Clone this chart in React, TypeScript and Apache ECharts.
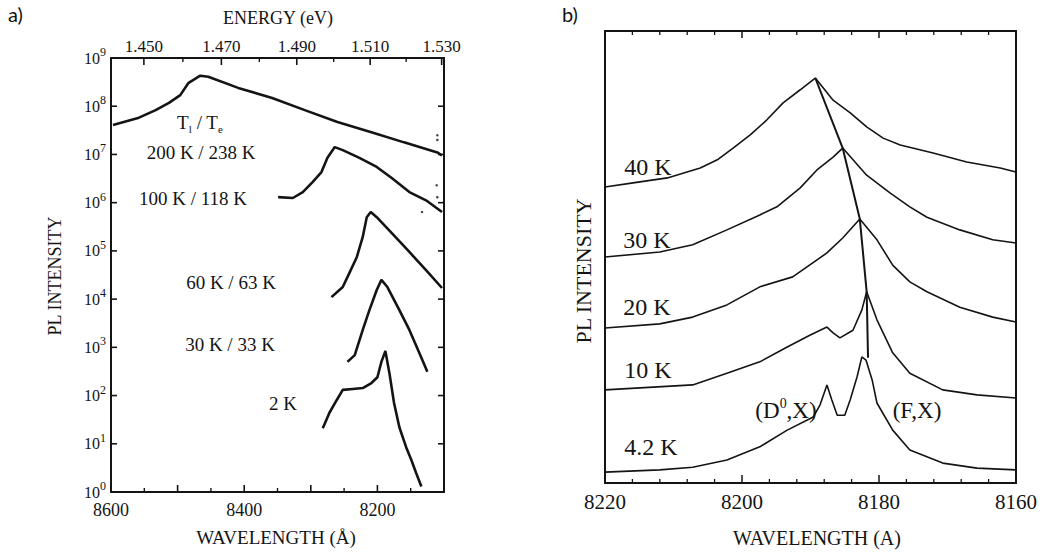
import { useEffect, useRef } from "react";
import * as echarts from "echarts";

// hc in eV·Å, for converting photon energy to wavelength
const HC = 12398.4;

// ---- Panel (a): PL spectra on a log scale, wavelength in Å ----
const A_WL_200K = [8597, 8558, 8533, 8513, 8496, 8484, 8466, 8454, 8409, 8358, 8309, 8260, 8209, 8160, 8110, 8103];
const A_PL_200K = [4.1e7, 5.8e7, 8.3e7, 1.17e8, 1.7e8, 3.0e8, 4.3e8, 4.1e8, 2.4e8, 1.48e8, 8.3e7, 4.7e7, 2.9e7, 1.78e7, 1.1e7, 9.5e6];

const A_WL_100K = [8349, 8327, 8312, 8297, 8284, 8275, 8264, 8252, 8227, 8201, 8178, 8152, 8127, 8103];
const A_PL_100K = [1.3e6, 1.25e6, 1.66e6, 2.7e6, 4.3e6, 8.5e6, 1.42e7, 1.23e7, 8.5e6, 5.5e6, 3.2e6, 1.66e6, 1.12e6, 6.4e5];

const A_WL_60K = [8269, 8252, 8242, 8231, 8222, 8216, 8210, 8201, 8178, 8152, 8127, 8103];
const A_PL_60K = [1.1e4, 1.78e4, 3.5e4, 7.4e4, 1.95e5, 5.0e5, 6.4e5, 5.0e5, 2.3e5, 9.5e4, 4.0e4, 1.7e4];

const A_WL_30K = [8245, 8234, 8222, 8212, 8201, 8194, 8185, 8167, 8152, 8137, 8125];
const A_PL_30K = [500, 690, 2300, 5900, 1.55e4, 2.5e4, 1.78e4, 5900, 2300, 760, 310];

const A_WL_2K = [8282, 8272, 8261, 8252, 8237, 8222, 8209, 8200, 8194, 8188, 8182, 8175, 8167, 8157, 8149, 8142, 8134];
const A_PL_2K = [21, 44, 81, 131, 137, 143, 182, 240, 500, 840, 295, 70, 22, 8.6, 4.6, 2.5, 1.3];

// isolated noisy points near the short-wavelength edge
const A_WL_STRAY = [8110, 8110, 8111, 8110, 8133];
const A_PL_STRAY = [2.5e7, 2.0e7, 2.3e6, 1.3e6, 6.4e5];

// tick positions, panel (a)
const A_WL_MAJOR_TICKS = [8500, 8400, 8300, 8200];
const A_WL_MINOR_TICKS = [8550, 8450, 8350, 8250, 8150];
const A_DECADE_TICKS = [1e1, 1e2, 1e3, 1e4, 1e5, 1e6, 1e7, 1e8];
const ENERGY_MAJOR = [1.45, 1.47, 1.49, 1.51, 1.53];
const ENERGY_MINOR = [1.46, 1.48, 1.5, 1.52];

// ---- Panel (b): offset PL spectra, wavelength in Å ----
const B_WL_40K = [8220, 8215.9, 8210.9, 8206.1, 8203.6, 8201.3, 8198.8, 8196.4, 8194.0, 8191.5, 8189.3, 8186.7, 8184.2, 8181.8, 8179.4, 8176.9, 8172.1, 8167.2, 8162.3, 8160];
const B_PL_40K = [65.5, 66.4, 67.5, 69.7, 71.5, 74.1, 77.0, 80.3, 84.1, 87.0, 89.6, 84.7, 81.9, 78.8, 76.3, 74.8, 73.0, 71.0, 69.7, 68.8];

const B_WL_30K = [8220, 8212, 8207.2, 8202.2, 8197.4, 8194.9, 8191.5, 8189.1, 8186.7, 8185.3, 8181.8, 8178.4, 8175.5, 8173.0, 8168.2, 8163.4, 8160];
const B_PL_30K = [50.0, 51.1, 52.7, 56.0, 59.3, 61.1, 65.3, 69.2, 72.1, 74.1, 68.1, 64.2, 61.1, 58.8, 56.0, 53.8, 53.1];

const B_WL_20K = [8220, 8212, 8207.2, 8202.2, 8197.4, 8192.6, 8187.6, 8185.3, 8182.8, 8180.3, 8178.0, 8175.5, 8173.0, 8168.2, 8163.4, 8160];
const B_PL_20K = [34.3, 35.2, 36.7, 39.4, 43.4, 45.6, 50.9, 54.2, 58.4, 53.8, 48.2, 44.5, 42.3, 38.9, 36.7, 35.6];

const B_WL_10K = [8220, 8207.2, 8202.2, 8197.4, 8193.4, 8190.1, 8187.6, 8186.7, 8185.7, 8183.8, 8182.5, 8181.8, 8180.3, 8178.0, 8175.5, 8170.7, 8165.7, 8160];
const B_PL_10K = [20.6, 21.7, 24.3, 26.8, 30.1, 32.7, 34.5, 33.2, 32.1, 33.8, 38.3, 42.3, 36.1, 28.8, 24.3, 20.6, 19.5, 18.8];

const B_WL_4K = [8220, 8212, 8207.2, 8202.2, 8197.4, 8193.4, 8189.6, 8188.6, 8187.6, 8186.9, 8186.1, 8185.0, 8184.2, 8183.2, 8182.5, 8181.9, 8181.0, 8180.3, 8178.0, 8175.5, 8170.7, 8165.7, 8160];
const B_PL_4K = [2.4, 2.9, 3.5, 5.1, 8.0, 11.7, 14.6, 17.3, 21.7, 18.4, 15.0, 15.0, 18.4, 23.5, 27.9, 27.2, 22.8, 17.7, 11.7, 7.3, 4.4, 3.3, 2.9];

// line joining the (F,X) peak positions from 40 K down to 4.2 K
const B_WL_PEAK = [8189.3, 8185.3, 8182.8, 8181.8, 8181.6];
const B_PL_PEAK = [89.6, 74.1, 58.4, 42.3, 27.7];

// tick positions, panel (b)
const B_WL_MAJOR_TICKS = [8200, 8180];
const B_WL_MINOR_TICKS = [8216, 8212, 8208, 8204, 8196, 8192, 8188, 8184, 8176, 8172, 8168, 8164];

const SERIF = '"Liberation Serif", "Times New Roman", serif';
const INK = "#141414";

const zip = (xs: number[], ys: number[]) => xs.map((x, i) => [x, ys[i]]);

const lineA = (name: string, xs: number[], ys: number[]) => ({
  name,
  type: "line",
  xAxisIndex: 0,
  yAxisIndex: 0,
  data: zip(xs, ys),
  showSymbol: false,
  lineStyle: { color: INK, width: 2.6 },
  silent: true,
});

const lineB = (name: string, xs: number[], ys: number[], width = 1.6) => ({
  name,
  type: "line",
  xAxisIndex: 3,
  yAxisIndex: 2,
  data: zip(xs, ys),
  showSymbol: false,
  lineStyle: { color: INK, width },
  silent: true,
});

// Inward tick marks on the frame: each point lies on the frame (data units);
// the tick runs (dx, dy) pixels from it.
const tickSeries = (
  name: string,
  xAxisIndex: number,
  yAxisIndex: number,
  points: number[][],
  dx: number,
  dy: number,
  width = 1.5
) => ({
  name,
  type: "custom",
  xAxisIndex,
  yAxisIndex,
  silent: true,
  clip: false,
  z: 5,
  data: points,
  renderItem: (_params: any, api: any) => {
    const p = api.coord([api.value(0), api.value(1)]);
    return {
      type: "line",
      shape: { x1: p[0], y1: p[1], x2: p[0] + dx, y2: p[1] + dy },
      style: { stroke: INK, lineWidth: width, fill: null },
    };
  },
});

const text = (x: number, y: number, t: string, size: number, extra: any = {}) => ({
  type: "text",
  x,
  y,
  style: {
    text: t,
    fill: INK,
    font: `${size}px ${SERIF}`,
    align: "center",
    verticalAlign: "middle",
    ...extra,
  },
});

const vtext = (x: number, y: number, t: string, size: number) => ({
  type: "text",
  x,
  y,
  rotation: Math.PI / 2,
  style: { text: t, fill: INK, font: `${size}px ${SERIF}`, align: "center", verticalAlign: "middle" },
});

const frame = (show = true) => ({ show, onZero: false, lineStyle: { color: INK, width: 2 } });
const noTick = { show: false };
const blankLabel = { show: true, formatter: () => "" };

export default function App() {
  const ref = useRef<HTMLDivElement>(null);

  useEffect(() => {
    if (!ref.current) return;
    const chart = echarts.init(ref.current, undefined, { renderer: "svg" });

    const option: any = {
      animation: false,
      grid: [
        { left: 111, top: 58, width: 333, height: 434 },
        { left: 605, top: 31, right: 32, bottom: 75 },
      ],
      xAxis: [
        {
          gridIndex: 0,
          type: "value",
          position: "bottom",
          min: 8100,
          max: 8600,
          interval: 100,
          inverse: true,
          axisLine: frame(),
          axisTick: noTick,
          splitLine: { show: false },
          axisLabel: {
            margin: 9,
            fontSize: 18,
            color: INK,
            fontFamily: SERIF,
            formatter: (v: number) => (v % 200 === 0 ? String(v) : ""),
          },
        },
        {
          gridIndex: 0,
          type: "value",
          position: "top",
          min: 8100,
          max: 8600,
          inverse: true,
          axisLine: frame(),
          axisTick: noTick,
          splitLine: { show: false },
          axisLabel: {
            margin: 3,
            fontSize: 17,
            color: INK,
            fontFamily: SERIF,
            customValues: ENERGY_MAJOR.map((e) => HC / e),
            formatter: (v: number) => (HC / v).toFixed(3),
          },
        },
        {
          gridIndex: 1,
          type: "value",
          position: "bottom",
          min: 8160,
          max: 8220,
          interval: 20,
          inverse: true,
          axisLine: frame(),
          axisTick: noTick,
          splitLine: { show: false },
          axisLabel: {
            margin: 8,
            fontSize: 21,
            color: INK,
            fontFamily: SERIF,
            formatter: (v: number) => String(v),
          },
        },
        {
          gridIndex: 1,
          type: "value",
          position: "top",
          min: 8160,
          max: 8220,
          interval: 20,
          inverse: true,
          axisLine: frame(),
          axisTick: noTick,
          splitLine: { show: false },
          axisLabel: blankLabel,
        },
      ],
      yAxis: [
        {
          gridIndex: 0,
          type: "log",
          logBase: 10,
          min: 1,
          max: 1e9,
          splitNumber: 9,
          position: "left",
          axisLine: frame(),
          axisTick: noTick,
          splitLine: { show: false },
          axisLabel: {
            margin: 5,
            color: INK,
            fontFamily: SERIF,
            formatter: (v: number) => `{b|10}{s|${Math.round(Math.log10(v))}}`,
            rich: {
              b: { fontSize: 16, lineHeight: 24, fontFamily: SERIF, color: INK },
              s: { fontSize: 12, lineHeight: 14, verticalAlign: "top", fontFamily: SERIF, color: INK },
            },
          },
        },
        {
          gridIndex: 0,
          type: "log",
          logBase: 10,
          min: 1,
          max: 1e9,
          splitNumber: 9,
          position: "right",
          axisLine: frame(),
          axisTick: noTick,
          splitLine: { show: false },
          axisLabel: blankLabel,
        },
        {
          gridIndex: 1,
          type: "value",
          min: 0,
          max: 100,
          position: "left",
          axisLine: frame(),
          axisTick: noTick,
          splitLine: { show: false },
          axisLabel: blankLabel,
        },
        {
          gridIndex: 1,
          type: "value",
          min: 0,
          max: 100,
          position: "right",
          axisLine: frame(),
          axisTick: noTick,
          splitLine: { show: false },
          axisLabel: blankLabel,
        },
      ],
      series: [
        lineA("200 K", A_WL_200K, A_PL_200K),
        lineA("100 K", A_WL_100K, A_PL_100K),
        lineA("60 K", A_WL_60K, A_PL_60K),
        lineA("30 K", A_WL_30K, A_PL_30K),
        lineA("2 K", A_WL_2K, A_PL_2K),
        {
          name: "stray",
          type: "scatter",
          xAxisIndex: 0,
          yAxisIndex: 0,
          data: zip(A_WL_STRAY, A_PL_STRAY),
          symbolSize: 2.5,
          itemStyle: { color: INK },
          silent: true,
        },
        lineB("40 K", B_WL_40K, B_PL_40K),
        lineB("30 K b", B_WL_30K, B_PL_30K),
        lineB("20 K b", B_WL_20K, B_PL_20K),
        lineB("10 K b", B_WL_10K, B_PL_10K),
        lineB("4.2 K", B_WL_4K, B_PL_4K),
        lineB("peak", B_WL_PEAK, B_PL_PEAK, 2),
        // frame ticks, panel (a)
        tickSeries("a bottom major", 0, 0, A_WL_MAJOR_TICKS.map((w) => [w, 1]), 0, -7, 1.6),
        tickSeries("a bottom minor", 0, 0, A_WL_MINOR_TICKS.map((w) => [w, 1]), 0, -4, 1.4),
        tickSeries("a top major", 0, 0, ENERGY_MAJOR.map((e) => [HC / e, 1e9]), 0, 7, 1.6),
        tickSeries("a top minor", 0, 0, ENERGY_MINOR.map((e) => [HC / e, 1e9]), 0, 4, 1.4),
        tickSeries("a left", 0, 0, A_DECADE_TICKS.map((d) => [8600, d]), 6, 0, 1.6),
        tickSeries("a right", 0, 0, A_DECADE_TICKS.map((d) => [8100, d]), -6, 0, 1.6),
        // frame ticks, panel (b)
        tickSeries("b bottom major", 2, 2, B_WL_MAJOR_TICKS.map((w) => [w, 0]), 0, -8, 1.5),
        tickSeries("b bottom minor", 2, 2, B_WL_MINOR_TICKS.map((w) => [w, 0]), 0, -4, 1.3),
        tickSeries("b top major", 2, 2, B_WL_MAJOR_TICKS.map((w) => [w, 100]), 0, 7, 1.5),
        tickSeries("b top minor", 2, 2, B_WL_MINOR_TICKS.map((w) => [w, 100]), 0, 4, 1.3),
      ].map((s: any) => (s.name && s.name.endsWith(" b") ? s : s)),
      graphic: [
        {
          type: "text",
          x: 8,
          y: 4,
          style: { text: "a)", fill: "#111", font: '20px Lato, "Open Sans", sans-serif' },
        },
        {
          type: "text",
          x: 562,
          y: 4,
          style: { text: "b)", fill: "#111", font: '20px Lato, "Open Sans", sans-serif' },
        },
        // axis titles
        text(278, 18, "ENERGY (eV)", 18),
        text(276, 537, "WAVELENGTH (Å)", 19),
        vtext(55, 276, "PL INTENSITY", 18),
        text(817, 538, "WAVELENGTH (A)", 20),
        vtext(583, 271, "PL INTENSITY", 22),
        // curve labels, panel (a)
        text(200, 122, "{t|T}{s|l}{t| / T}{s|e}", 18, {
          rich: {
            t: { fontSize: 19, lineHeight: 24, fontFamily: SERIF, fill: INK },
            s: { fontSize: 11, lineHeight: 12, verticalAlign: "bottom", fontFamily: SERIF, fill: INK },
          },
        }),
        text(201, 152, "200 K / 238 K", 19),
        text(193, 198, "100 K / 118 K", 19),
        text(231, 282, "60 K / 63 K", 19),
        text(230, 344, "30 K / 33 K", 19),
        text(283, 403, "2 K", 19),
        // curve labels, panel (b)
        text(648, 167, "40 K", 24),
        text(647, 240, "30 K", 24),
        text(647, 307, "20 K", 24),
        text(648, 370, "10 K", 24),
        text(651, 447, "4.2 K", 24),
        text(786, 410, "{t|(D}{s|0}{t|,X)}", 22, {
          rich: {
            t: { fontSize: 23, lineHeight: 28, fontFamily: SERIF, fill: INK },
            s: { fontSize: 14, lineHeight: 14, verticalAlign: "top", fontFamily: SERIF, fill: INK },
          },
        }),
        text(917, 410, "(F,X)", 23),
      ],
    };

    // the panel (b) series refer to its axes by index: x axis 2, y axis 2
    option.series.forEach((s: any) => {
      if (s.xAxisIndex === 3) s.xAxisIndex = 2;
    });

    chart.setOption(option);
    return () => chart.dispose();
  }, []);

  return (
    <div
      ref={ref}
      style={{ position: "fixed", left: 0, top: 0, width: 1048, height: 558, background: "#fff" }}
    />
  );
}
